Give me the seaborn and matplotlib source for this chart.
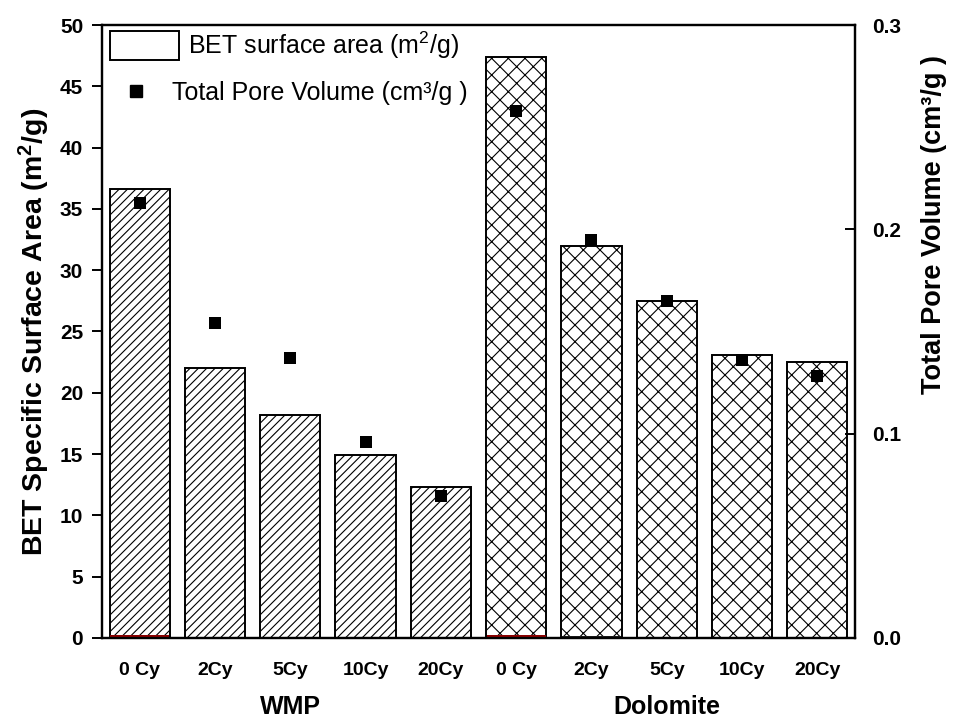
import numpy as np
import pandas as pd
import matplotlib
matplotlib.use("Agg")
import matplotlib.pyplot as plt
from matplotlib.patches import Patch
from matplotlib.lines import Line2D
import seaborn as sns

# Samples after a number of calcination/carbonation cycles
materials = ["WMP"] * 5 + ["Dolomite"] * 5
cycle_labels = ["0 Cy", "2Cy", "5Cy", "10Cy", "20Cy",
                "0 Cy", "2Cy", "5Cy", "10Cy", "20Cy"]
bet_area = [36.6, 22.0, 18.2, 14.9, 12.3,
            47.4, 32.0, 27.5, 23.1, 22.5]          # m2/g
pore_volume = [0.213, 0.154, 0.137, 0.096, 0.0695,
               0.258, 0.195, 0.165, 0.136, 0.128]  # cm3/g
base_layer = [0.25, 0, 0, 0, 0, 0.25, 0.15, 0, 0, 0]
base_colors = ["#8b0000", "#8b0000", "#8b0000", "#8b0000", "#8b0000",
               "#8b0000", "#1a1a1a", "#8b0000", "#8b0000", "#8b0000"]
group_names = ["WMP", "Dolomite"]

sns.set_theme(style="white")
plt.rcParams["font.family"] = ["Liberation Sans", "DejaVu Sans"]
plt.rcParams.update({
    "text.color": "black", "axes.labelcolor": "black",
    "xtick.color": "black", "ytick.color": "black",
    "hatch.linewidth": 0.8, "hatch.color": "#333333",
})

df = pd.DataFrame({
    "sample": [f"{m} {c}" for m, c in zip(materials, cycle_labels)],
    "material": materials,
    "bet": bet_area,
    "pore": pore_volume,
    "base": base_layer,
    "pos": np.arange(len(materials)),
})

fig = plt.figure(figsize=(9.55, 7.19), dpi=100)
ax = fig.add_axes([0.1068, 0.1127, 0.7885, 0.8525])

sns.barplot(data=df, x="sample", y="bet", hue="material", dodge=False,
            palette={"WMP": "white", "Dolomite": "white"}, width=0.8,
            edgecolor="black", linewidth=1.4, legend=False, ax=ax, zorder=2)
hatches = {"WMP": "////", "Dolomite": "xx"}
for patch, mat in zip(ax.patches, df["material"]):
    patch.set_hatch(hatches[mat])

# thin layer at the base of the bars
for i, (h, c) in enumerate(zip(df["base"], base_colors)):
    if h > 0:
        ax.bar(i, h, width=0.78, color=c, edgecolor="none", zorder=3)

ax.set_xlim(-0.5, 9.5)
ax.set_ylim(0, 50)
ax.set_yticks(np.arange(0, 51, 5))
ax.set_xticks(np.arange(len(cycle_labels)))
ax.set_xticklabels(cycle_labels, fontsize=14, fontweight="bold")
for t in ax.get_yticklabels():
    t.set_fontsize(15)
    t.set_fontweight("bold")
ax.set_xlabel("")
ax.set_ylabel("BET Specific Surface Area (m$\\mathregular{^2}$/g)",
              fontsize=20.5, fontweight="bold", labelpad=6)
ax.tick_params(axis="both", direction="out", length=7.5, width=1.4,
               color="black", pad=6)
ax.tick_params(axis="x", pad=10)
for sp in ax.spines.values():
    sp.set_linewidth(1.6)
    sp.set_color("black")

# group labels under the cycle labels
for k, name in enumerate(group_names):
    ax.text(2 + 5 * k, -0.112, name, transform=ax.get_xaxis_transform(),
            ha="center", va="center", fontsize=18, fontweight="bold")

# pore volume on the secondary axis
ax2 = ax.twinx()
sns.scatterplot(data=df, x="pos", y="pore", marker="s", color="black",
                s=80, edgecolor="black", linewidth=0, ax=ax2, zorder=4,
                legend=False)
ax2.set_xlim(-0.5, 9.5)
ax2.set_ylim(0, 0.3)
ax2.set_yticks([0.0, 0.1, 0.2, 0.3])
ax2.set_yticklabels(["0.0", "0.1", "0.2", "0.3"], fontsize=15, fontweight="bold")
ax2.tick_params(axis="y", direction="in", length=7.5, width=1.4, color="black", pad=12)
ax2.set_ylabel("Total Pore Volume (cm³/g )", fontsize=19.5, fontweight="bold")
ax2.yaxis.set_label_coords(1.087, 0.674)
ax2.set_xlabel("")
for sp in ax2.spines.values():
    sp.set_linewidth(1.6)
    sp.set_color("black")

# legend entries, each placed on its own row
leg1 = ax2.legend(
    handles=[Patch(facecolor="white", edgecolor="black", linewidth=1.4,
                   label="BET surface area (m$\\mathregular{^2}$/g)")],
    loc="center left", bbox_to_anchor=(0.0106, 0.967), frameon=False,
    fontsize=18, handlelength=2.75, handleheight=1.4, handletextpad=0.37,
    borderpad=0, borderaxespad=0)
ax2.add_artist(leg1)
ax2.legend(
    handles=[Line2D([], [], marker="s", color="black", linestyle="none",
                    markersize=8.6, label="Total Pore Volume (cm³/g )")],
    loc="center left", bbox_to_anchor=(0.0279, 0.889), frameon=False,
    fontsize=18, handlelength=1.0, handletextpad=0.95,
    borderpad=0, borderaxespad=0)

fig.savefig("out.png", dpi=100)
